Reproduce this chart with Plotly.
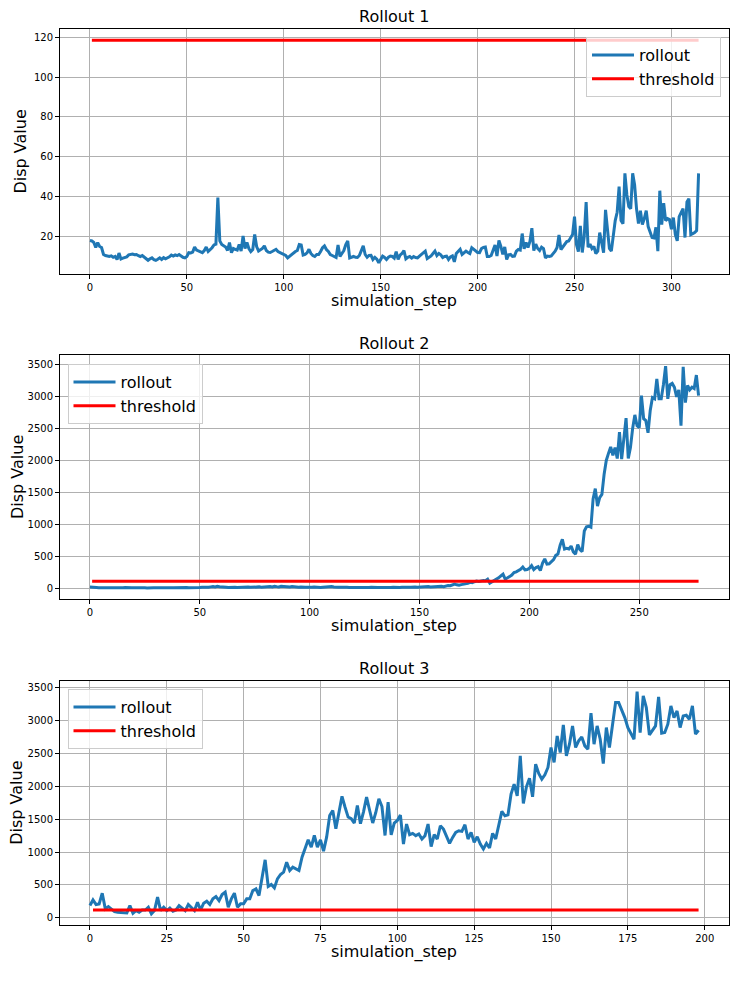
import plotly.graph_objects as go
from plotly.subplots import make_subplots

# Disp values per simulation step
rollout_1 = [
    18, 17.8, 17, 14.5, 17, 15, 14.5, 11, 10.5, 10.2,
    10, 10.3, 9.6, 10, 8.5, 11.7, 8.8, 9.2, 9.4, 9.8,
    10.8, 11, 11.2, 10.9, 11, 10.4, 10, 10.5, 9.8, 9,
    8.1, 8.8, 9.3, 8.4, 8.1, 8.6, 9.3, 8.5, 9.4, 8.8,
    9.2, 9.8, 10.7, 10.2, 10.8, 10.4, 11, 10.2, 9.6, 9.3,
    10, 11.9, 11.8, 12.2, 14.7, 13.2, 12.7, 12, 11.9, 13,
    14.7, 12.5, 13.3, 14.4, 15.8, 16.2, 39.5, 17.8, 16, 15.2,
    14.7, 13, 17, 11.9, 14, 13.6, 13.2, 16, 12.7, 20.3,
    14, 17, 14, 12.5, 13.5, 21, 15, 12.7, 13.2, 14,
    15.3, 13, 12.2, 12, 12.5, 13.2, 13.6, 12.5, 12, 11.8,
    11.4, 10.5, 9.3, 10.2, 11, 12, 12.5, 13, 16, 15.8,
    10.7, 11, 11.8, 13.6, 11.5, 10.5, 10, 11, 11, 12.5,
    14.4, 15.3, 13.5, 12.5, 11, 10.5, 10, 9.5, 15.8, 10,
    11.5, 13, 16, 17.8, 9.3, 9.5, 10, 9.6, 9.5, 10.5,
    13, 15.3, 11, 9.6, 10.5, 10.6, 8.5, 9.6, 8.7, 6.8,
    8.5, 10.2, 9.5, 8.5, 9.6, 10.2, 10, 9.2, 12.4, 8.5,
    10.7, 11.5, 13, 8.8, 9.6, 10, 9.2, 10, 9.5, 9.3,
    10.2, 11, 11.5, 12.7, 9, 9.5, 10.3, 11.5, 12.7, 10.5,
    11.5, 10.8, 9.5, 10, 10.2, 8.5, 9.8, 10.3, 7.3, 11.5,
    12.5, 13.6, 11, 12, 12.7, 12, 11.5, 14.4, 13.5, 13,
    12, 11.9, 14, 14.5, 14.7, 10, 10, 10.5, 13, 15.8,
    10.2, 18, 15, 11, 14.8, 8.5, 10.8, 11, 10, 10.2,
    12.7, 13.5, 13.2, 21.5, 13.8, 17, 14.5, 17.5, 24.2, 13,
    16.2, 14, 13, 14.7, 14, 9.3, 10.2, 10, 10.3, 11.5,
    12.7, 14.5, 20.8, 13.5, 15, 16.2, 17.5, 17.8, 19.5, 21,
    30, 16, 12.4, 25.4, 12, 20, 37.3, 14.7, 16.2, 14,
    15, 11.5, 12.7, 22, 17, 11.9, 33.4, 22, 14, 12.7,
    22, 28, 32.2, 45, 28, 26.5, 51.7, 41, 35, 34,
    51.7, 46, 33.9, 26.5, 33, 26, 29, 33, 25, 22,
    19.5, 19.3, 24.6, 12.7, 43, 26, 36.8, 28, 29, 28.5,
    23.7, 29.5, 21, 17.8, 30, 32, 34, 19.5, 37.3, 39,
    21, 21.5, 22, 23, 51.7,
]

rollout_2 = [
    28, 22, 18, 20, 17, 19, 16, 18, 15, 17,
    16, 14, 18, 15, 17, 16, 19, 15, 14, 17,
    16, 18, 15, 17, 19, 16, 14, 18, 17, 15,
    16, 19, 17, 15, 18, 16, 20, 17, 15, 18,
    21, 17, 16, 19, 22, 18, 17, 20, 18, 22,
    19, 24, 21, 26, 23, 30, 35, 28, 38, 32,
    26, 22, 25, 21, 24, 20, 23, 19, 22, 25,
    21, 24, 28, 23, 27, 32, 26, 30, 24, 28,
    33, 27, 36, 30, 40, 34, 29, 38, 33, 28,
    31, 27, 35, 30, 26, 24, 28, 22, 26, 25,
    21, 24, 27, 23, 26, 22, 25, 28, 24, 30,
    35, 27, 32, 26, 23, 27, 21, 25, 22, 20,
    24, 21, 19, 23, 20, 22, 18, 21, 24, 20,
    23, 19, 22, 20, 24, 21, 23, 20, 25, 22,
    24, 21, 25, 22, 28, 24, 26, 30, 27, 25,
    28, 32, 26, 30, 35, 29, 33, 38, 31, 36,
    40, 34, 45, 52, 48, 60, 75, 62, 55, 65,
    70, 80, 85, 100, 95, 110, 120, 115, 125, 130,
    125, 150, 88, 110, 120, 150, 170, 200, 227, 150,
    165, 190, 215, 253, 265, 284, 305, 340, 295, 300,
    320, 360, 300, 330, 345, 285, 400, 465, 385, 390,
    420, 455, 520, 540, 680, 770, 620, 630, 620, 665,
    575, 540, 690, 610, 580, 900, 965, 975, 960, 1400,
    1560, 1290, 1420, 1470, 1780, 2000, 2110, 2210, 2080, 2200,
    2030, 2440, 2020, 2300, 2660, 2030, 2200, 2500, 2710, 2540,
    2510, 3010, 2650, 2620, 2430, 2780, 2980, 2960, 3270, 2960,
    2960, 3180, 3470, 2960, 3180, 3200, 3140, 2990, 3100, 2540,
    3460, 2900, 3170, 3100, 3140, 3120, 3330, 3010,
]

rollout_3 = [
    187, 273, 203, 213, 375, 137, 172, 137, 96, 86,
    86, 80, 76, 187, 71, 111, 86, 120, 120, 162,
    61, 111, 314, 111, 162, 111, 150, 101, 121, 187,
    152, 111, 203, 152, 111, 238, 121, 223, 253, 203,
    289, 324, 263, 355, 390, 162, 289, 375, 162, 213,
    213, 289, 289, 415, 440, 340, 618, 881, 476, 506,
    456, 593, 659, 694, 846, 720, 770, 745, 720, 922,
    1049, 1185, 1075, 1251, 1075, 1185, 1013, 1225, 1555, 1631,
    1352, 1580, 1844, 1680, 1530, 1505, 1439, 1707, 1430, 1610,
    1834, 1630, 1440, 1600, 1808, 1690, 1251, 1758, 1260, 1440,
    1479, 1560, 1121, 1424, 1262, 1283, 1248, 1273, 1197, 1248,
    1424, 1081, 1262, 1197, 1399, 1348, 1248, 1131, 1222, 1298,
    1323, 1313, 1414, 1197, 1298, 1146, 1232, 1121, 1045, 1131,
    1060, 1283, 1197, 1424, 1616, 1550, 1565, 1879, 2030, 1853,
    2459, 1737, 1990, 2121, 1838, 2333, 2192, 2106, 2172, 2283,
    2586, 2359, 2762, 2510, 2929, 2460, 2636, 2914, 2586, 2687,
    2747, 2611, 2560, 3106, 2636, 2914, 2712, 2343, 2888, 2586,
    2939, 3267, 3267, 3166, 3040, 2888, 2788, 2712, 3434, 2813,
    3368, 3191, 2778, 2848, 2914, 3353, 2803, 2813, 2939, 3217,
    3040, 3141, 2888, 3065, 3075, 3015, 3217, 2788, 2848,
]

threshold = 118.5

rollouts = [rollout_1, rollout_2, rollout_3]
titles = ['Rollout 1', 'Rollout 2', 'Rollout 3']
x_ticks = [list(range(0, 301, 50)), list(range(0, 251, 50)), list(range(0, 201, 25))]
y_ticks = [list(range(20, 121, 20)), list(range(0, 3501, 500)), list(range(0, 3501, 500))]

# the page body has an 8px margin, so the figure is drawn 8px smaller
# and every pixel position below is shifted by that amount
OFF = 8
W, H = 745 - OFF, 984 - OFF
FONT = 'DejaVu Sans'


def px_x(p):
    return (p - OFF) / W


def px_y(p):
    return 1 - (p - OFF) / H


# axes boxes in window pixels, like the matplotlib figure
x_dom = [px_x(59.5), px_x(729)]
boxes = [(29, 274), (355, 599), (680.5, 925)]
legend_pos = [
    dict(x=px_x(721), y=px_y(37), xanchor='right', yanchor='top'),
    dict(x=px_x(67.5), y=px_y(364), xanchor='left', yanchor='top'),
    dict(x=px_x(67.5), y=px_y(689), xanchor='left', yanchor='top'),
]
ylabel_x = [20, 17, 17]

fig = make_subplots(rows=3, cols=1)

annotations = []
for i, vals in enumerate(rollouts):
    row = i + 1
    leg = 'legend' if i == 0 else 'legend%d' % row
    steps = list(range(len(vals)))
    th_steps = steps[1:]

    fig.add_trace(go.Scatter(
        x=steps, y=vals, mode='lines', name='rollout',
        line=dict(color='#1f77b4', width=3), legend=leg
    ), row=row, col=1)
    fig.add_trace(go.Scatter(
        x=th_steps, y=[threshold] * len(th_steps), mode='lines', name='threshold',
        line=dict(color='red', width=3), legend=leg
    ), row=row, col=1)

    # matplotlib-like 5% margins
    xmax = steps[-1]
    ylo = min(min(vals), threshold)
    yhi = max(max(vals), threshold)
    ypad = 0.05 * (yhi - ylo)

    top, bottom = boxes[i]
    axis_common = dict(
        showline=True, mirror=True, linecolor='black', linewidth=1,
        showgrid=True, gridcolor='#b0b0b0', gridwidth=0.8, zeroline=False,
        ticks='outside', ticklen=3.5, tickwidth=0.8, tickcolor='black',
        tickfont=dict(family=FONT, size=10, color='black'),
    )
    fig.update_xaxes(
        domain=x_dom, range=[-0.05 * xmax, 1.05 * xmax],
        tickvals=x_ticks[i], **axis_common, row=row, col=1
    )
    fig.update_yaxes(
        domain=[px_y(bottom), px_y(top)], range=[ylo - ypad, yhi + ypad],
        tickvals=y_ticks[i], **axis_common, row=row, col=1
    )

    cx = (x_dom[0] + x_dom[1]) / 2
    # title
    annotations.append(dict(
        text=titles[i], x=cx, y=px_y(top - 12), xref='paper', yref='paper',
        xanchor='center', yanchor='middle', showarrow=False,
        font=dict(family=FONT, size=16, color='black')
    ))
    # x label
    annotations.append(dict(
        text='simulation_step', x=cx, y=px_y(bottom + 27), xref='paper', yref='paper',
        xanchor='center', yanchor='middle', showarrow=False,
        font=dict(family=FONT, size=16, color='black')
    ))
    # y label
    annotations.append(dict(
        text='Disp Value', x=px_x(ylabel_x[i]), y=px_y((top + bottom) / 2),
        xref='paper', yref='paper', xanchor='center', yanchor='middle',
        textangle=-90, showarrow=False,
        font=dict(family=FONT, size=16, color='black')
    ))

legend_style = dict(
    bgcolor='rgba(255,255,255,0.8)', bordercolor='#cccccc', borderwidth=1,
    font=dict(family=FONT, size=16, color='black'), itemwidth=42,
)
fig.update_layout(
    width=W, height=H,
    margin=dict(l=0, r=0, t=0, b=0),
    paper_bgcolor='white', plot_bgcolor='white',
    showlegend=True,
    annotations=annotations,
    legend=dict(**legend_pos[0], **legend_style),
    legend2=dict(**legend_pos[1], **legend_style),
    legend3=dict(**legend_pos[2], **legend_style),
)

fig.write_html('out.html')
